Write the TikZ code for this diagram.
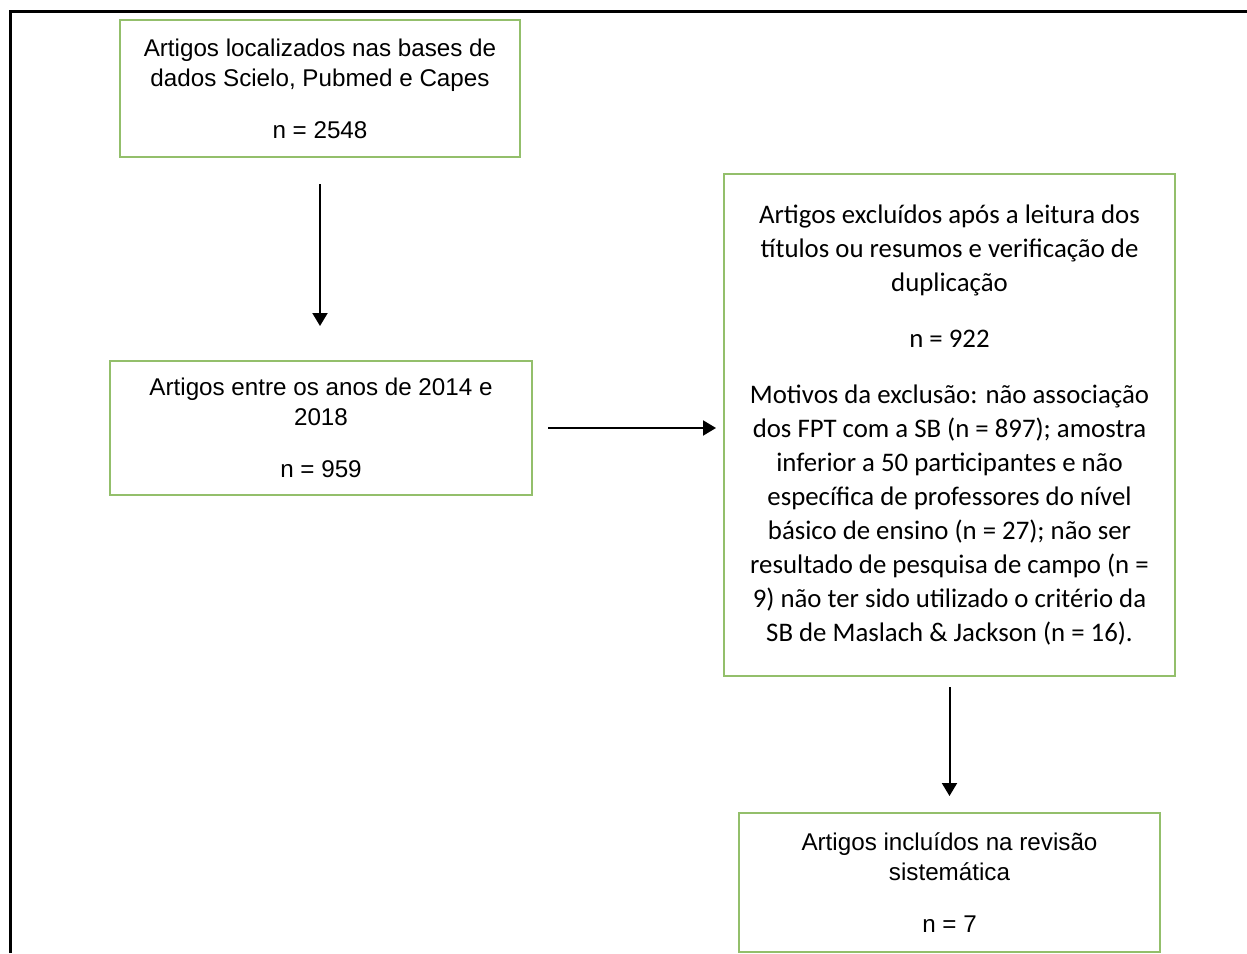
\documentclass[tikz,border=0pt]{standalone}
\usepackage{fontspec}
\setmainfont{Liberation Sans}
\newfontfamily\calib{Carlito}
\usetikzlibrary{arrows.meta}
\definecolor{boxgreen}{HTML}{93BF6B}
\tikzset{
  flowbox/.style={draw=boxgreen, line width=1pt, inner sep=0pt, align=center, font=\fontsize{12.1}{15}\selectfont},
  calbox/.style={flowbox, font=\calib\fontsize{13.4}{17}\selectfont},
  flowarrow/.style={line width=1pt, -{Triangle[width=7.5pt,length=6.5pt]}},
  frame/.style={line width=1.5pt, black}
}
\begin{document}
\begin{tikzpicture}[x=0.5pt, y=-0.5pt]
\useasboundingbox (0,0) rectangle (1247,953);
\coordinate (fb) at (10,953);
\coordinate (fc) at (10,11);
\coordinate (fr) at (1247,11);
\draw[frame] (fb) -- (fc) -- (fr);
\node[flowbox, minimum width=200pt, minimum height=68.5pt] (b1) at (320,88.5)
  {Artigos localizados nas bases de\\dados Scielo, Pubmed e Capes\\[11pt]n = 2548};
\node[flowbox, minimum width=211pt, minimum height=67pt] (b2) at (321,428)
  {Artigos entre os anos de 2014 e\\2018\\[11pt]n = 959};
\node[calbox, minimum width=225.5pt, minimum height=251pt] (b3) at (949.5,425)
  {Artigos excluídos após a leitura dos\\títulos ou resumos e verificação de\\duplicação\\[11pt]n = 922\\[11pt]Motivos da exclusão: não associação\\dos FPT com a SB (n = 897); amostra\\inferior a 50 participantes e não\\específica de professores do nível\\básico de ensino (n = 27); não ser\\resultado de pesquisa de campo (n =\\9) não ter sido utilizado o critério da\\SB de Maslach \& Jackson (n = 16).};
\node[flowbox, minimum width=210.5pt, minimum height=69.5pt] (b4) at (949.5,882.5)
  {Artigos incluídos na revisão\\sistemática\\[11pt]n = 7};
\draw[flowarrow, shorten <=13pt, shorten >=17pt] (b1.south) -- (b1.south |- b2.north);
\draw[flowarrow, shorten <=7.5pt, shorten >=3.5pt] (b2.east) -- (b2.east -| b3.west);
\draw[flowarrow, shorten <=5pt, shorten >=8pt] (b3.south) -- (b4.north);
\end{tikzpicture}
\end{document}
